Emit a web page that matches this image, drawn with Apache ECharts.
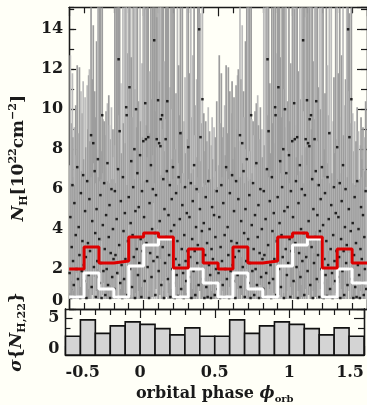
<!DOCTYPE html>
<html>
<head>
<meta charset="utf-8">
<script src="https://cdn.jsdelivr.net/npm/echarts@6/dist/echarts.min.js"></script>
<style>
  html, body { margin: 0; padding: 0; background: #fffff7; }
  #chart { width: 367px; height: 405px; }
</style>
</head>
<body>
<div id="chart"></div>
<script>
// Phase-folded absorption column: each observation is [phase, N_H, lower, upper] (10^22 cm^-2).
// Phases lie in [-0.5, 0.5); the plot repeats them one cycle later.
const nhObs = [
  [-0.497,1.8,0.5,7.2],[-0.492,4.6,0.8,12.7],[-0.487,0.55,0.5,6.3],[-0.483,3.1,0.5,9.3],[-0.478,6.2,1.4,11.8],
  [-0.474,2.4,0.5,8.6],[-0.469,1.2,0.5,6.6],[-0.465,5.3,0.9,9.1],[-0.461,0.6,0.5,6.2],[-0.456,3.7,0.6,10.2],
  [-0.451,2.0,0.5,7.7],[-0.446,7.1,1.8,12.2],[-0.441,1.5,0.5,6.9],[-0.436,4.1,0.7,8.8],[-0.431,2.7,0.5,12.1],
  [-0.426,0.55,0.5,6.5],[-0.421,5.8,1.1,10.9],[-0.416,1.9,0.5,6.9],[-0.411,3.4,0.5,9.8],[-0.406,6.7,1.5,11.4],
  [-0.402,2.2,0.5,7.5],
  [-0.397,1.4,0.5,6.6],[-0.393,4.9,0.8,10.6],[-0.388,2.6,0.5,8.1],[-0.384,0.55,0.5,6.4],[-0.379,6.4,1.3,11.2],
  [-0.374,3.3,0.5,9.0],[-0.369,1.7,0.5,11.7],[-0.364,5.5,1.0,12.0],[-0.36,2.9,0.5,8.4],[-0.353,8.7,2.9,16.0],
  [-0.349,1.1,0.5,6.6],[-0.345,4.4,0.7,11.5],[-0.338,8.3,2.6,14.2],[-0.334,2.1,0.5,7.3],[-0.329,6.9,1.6,10.9],
  [-0.325,3.8,0.6,9.6],[-0.321,0.6,0.5,6.3],[-0.316,5.0,0.9,13.4],[-0.311,2.4,0.5,8.0],[-0.307,7.5,2.0,16.5],
  [-0.303,1.6,0.5,6.6],
  [-0.298,3.5,0.5,17.0],[-0.294,1.3,0.5,6.4],[-0.29,5.7,1.0,15.8],[-0.286,2.3,0.5,7.9],[-0.282,0.55,0.5,6.5],
  [-0.278,9.7,3.4,16.2],[-0.274,4.2,0.7,9.5],[-0.27,1.9,0.5,6.8],[-0.265,6.3,1.3,9.4],[-0.261,3.0,0.5,8.7],
  [-0.257,0.7,0.5,6.2],[-0.252,4.7,0.8,9.9],[-0.248,2.0,0.5,7.1],[-0.243,7.3,1.9,10.3],[-0.239,1.2,0.5,6.4],
  [-0.234,3.6,0.6,10.7],[-0.229,5.2,0.9,9.2],[-0.225,0.55,0.5,6.3],[-0.221,2.8,0.5,8.5],[-0.216,6.0,1.2,10.1],
  [-0.211,1.6,0.5,6.5],[-0.206,4.0,0.6,9.0],[-0.202,2.5,0.5,7.6],
  [-0.197,1.0,0.5,6.5],[-0.193,5.9,1.1,16.8],[-0.189,2.7,0.5,8.2],[-0.185,0.6,0.5,6.3],[-0.181,4.5,0.7,15.9],
  [-0.177,1.8,0.5,7.0],[-0.172,7.0,1.7,17.5],[-0.168,12.5,4.6,19.0],[-0.164,3.2,0.5,9.7],[-0.161,8.9,3.0,16.4],
  [-0.157,1.3,0.5,6.6],[-0.153,5.4,1.0,11.3],[-0.148,2.2,0.5,7.8],[-0.143,0.55,0.5,6.9],[-0.139,6.6,1.5,16.1],
  [-0.135,3.9,0.6,9.3],[-0.131,1.5,0.5,6.5],[-0.126,4.8,0.8,15.7],[-0.122,2.5,0.5,8.3],[-0.117,10.1,3.8,17.8],
  [-0.114,9.7,3.3,16.6],[-0.109,0.7,0.5,6.2],[-0.105,3.4,0.5,12.8],
  [-0.1,5.6,1.0,16.3],[-0.095,11.1,4.2,18.2],[-0.091,2.0,0.5,7.4],[-0.087,4.3,0.7,15.4],[-0.083,7.4,2.0,12.6],
  [-0.078,1.1,0.5,6.8],[-0.074,3.7,0.6,9.6],[-0.07,6.1,1.2,16.9],[-0.066,2.6,0.5,8.0],[-0.062,8.0,2.5,15.1],
  [-0.058,0.55,0.5,6.5],[-0.055,4.9,0.8,11.0],[-0.051,10.0,3.6,17.3],[-0.046,3.0,0.5,9.1],[-0.042,6.8,1.6,15.5],
  [-0.038,1.7,0.5,6.7],[-0.033,5.1,0.9,10.4],[-0.029,2.3,0.5,7.9],[-0.024,7.7,2.2,16.7],[-0.02,3.5,0.5,9.4],
  [-0.015,0.6,0.5,6.3],[-0.011,5.9,1.1,12.3],[-0.006,2.9,0.5,8.6],[-0.002,8.4,2.7,15.2],
  [0.003,4.6,0.7,16.2],[0.007,1.4,0.5,6.4],[0.011,10.3,3.9,17.6],[0.015,8.5,2.8,15.0],[0.019,3.3,0.5,9.2],
  [0.023,6.4,1.4,16.4],[0.027,2.1,0.5,7.6],[0.031,8.6,2.8,15.8],[0.036,0.55,0.5,6.7],[0.04,5.3,0.9,11.9],
  [0.044,2.8,0.5,8.8],[0.049,7.2,1.9,16.0],[0.053,1.6,0.5,6.9],[0.057,4.0,0.6,10.5],[0.062,6.0,1.2,15.3],
  [0.066,2.4,0.5,7.7],[0.071,13.45,5.3,19.5],[0.075,3.8,0.6,9.9],[0.079,0.7,0.5,6.3],[0.083,5.7,1.0,16.6],
  [0.088,8.5,2.8,14.6],[0.092,2.6,0.5,8.1],[0.097,10.45,4.0,18.1],
  [0.101,1.9,0.5,7.2],[0.104,8.3,2.6,16.2],[0.108,4.4,0.7,11.4],[0.113,8.15,2.5,15.3],[0.115,9.5,3.3,17.1],
  [0.119,1.2,0.5,6.7],[0.124,9.7,3.4,16.8],[0.128,3.1,0.5,9.0],[0.132,6.5,1.4,15.6],[0.136,0.55,0.5,6.4],
  [0.14,5.0,0.9,12.4],[0.144,2.3,0.5,7.9],[0.148,8.5,2.8,16.0],[0.152,3.6,0.6,9.5],[0.156,6.9,1.6,15.4],
  [0.159,10.4,3.9,17.4],[0.163,1.5,0.5,6.3],[0.167,4.7,0.8,15.9],[0.171,2.7,0.5,8.4],[0.176,6.2,1.3,11.1],
  [0.18,0.6,0.5,6.4],[0.184,3.9,0.6,16.4],[0.189,5.5,1.0,10.0],[0.193,2.0,0.5,7.5],[0.197,7.1,1.8,15.2],
  [0.201,1.3,0.5,6.5],[0.205,4.2,0.7,15.7],[0.209,0.55,0.5,6.6],[0.214,2.5,0.5,8.0],[0.218,5.8,1.1,10.8],
  [0.222,1.7,0.5,6.6],[0.227,3.4,0.5,16.1],[0.231,0.65,0.5,6.2],[0.235,6.6,1.5,12.2],[0.239,2.2,0.5,7.3],
  [0.243,4.5,0.7,9.7],[0.247,8.8,2.9,15.6],[0.252,1.0,0.5,6.3],[0.256,3.0,0.5,8.9],[0.26,5.2,0.9,16.0],
  [0.265,1.8,0.5,6.8],[0.269,0.55,0.5,6.1],[0.273,3.7,0.6,9.4],[0.278,6.1,1.2,11.6],[0.282,2.4,0.5,7.8],
  [0.286,1.4,0.5,6.2],[0.29,4.8,0.8,15.9],[0.295,2.9,0.5,8.5],
  [0.3,8.1,2.5,16.3],[0.304,1.6,0.5,6.5],[0.308,4.6,0.7,11.8],[0.313,2.6,0.5,8.2],[0.317,6.3,1.3,15.6],
  [0.321,0.55,0.5,6.8],[0.326,3.5,0.5,9.6],[0.33,5.4,1.0,12.7],[0.335,1.9,0.5,7.0],[0.339,7.2,1.9,16.7],
  [0.343,2.9,0.5,8.7],[0.347,0.7,0.5,6.2],[0.352,4.1,0.6,10.2],[0.356,6.0,1.2,11.5],[0.36,2.3,0.5,7.6],
  [0.364,3.2,0.5,15.3],[0.369,1.2,0.5,6.6],[0.373,14.0,5.8,20.0],[0.378,5.0,0.9,10.9],[0.382,8.6,2.8,14.8],
  [0.386,2.0,0.5,7.4],[0.391,3.9,0.6,9.3],[0.395,10.5,4.0,17.5],
  [0.399,1.5,0.5,6.1],[0.404,4.3,0.7,9.8],[0.408,0.55,0.5,6.3],[0.413,2.7,0.5,7.9],[0.417,5.6,1.0,9.4],
  [0.421,1.1,0.5,6.2],[0.426,3.3,0.5,8.4],[0.43,0.6,0.5,6.1],[0.434,6.4,1.4,10.1],[0.439,2.2,0.5,7.0],
  [0.443,4.0,0.6,8.9],[0.447,1.7,0.5,6.4],[0.452,0.55,0.5,6.5],[0.456,3.0,0.5,8.2],[0.46,5.1,0.9,9.6],
  [0.465,2.5,0.5,7.5],[0.469,1.3,0.5,6.6],[0.473,4.7,0.8,9.1],[0.478,0.7,0.5,6.0],[0.482,3.6,0.6,8.6],
  [0.486,2.0,0.5,6.9],[0.491,5.9,1.1,10.4],[0.495,1.0,0.5,6.1]
];

// Phase bins of width 0.1 over two cycles (edges)
const binEdges = [-0.5,-0.4,-0.3,-0.2,-0.1,0.0,0.1,0.2,0.3,0.4,0.5,0.6,0.7,0.8,0.9,1.0,1.1,1.2,1.3,1.4,1.5];
// Binned N_H curves, one value per bin
const nhBinnedRed   = [2.0,3.1,2.3,2.4,3.6,3.8,3.6,2.05,3.0,2.3, 2.0,3.1,2.3,2.4,3.6,3.8,3.6,2.05,3.0,2.3];
const nhBinnedWhite = [0.6,1.8,1.0,0.6,2.15,3.2,3.5,0.6,2.0,1.3, 0.6,1.8,1.0,0.6,2.15,3.2,3.5,0.6,2.0,1.3];
// Scatter of N_H within each bin
const sigmaNH = [2.52,4.74,2.92,3.93,4.46,4.13,3.56,2.71,3.65,2.52, 2.52,4.74,2.92,3.93,4.46,4.13,3.56,2.71,3.65,2.52];

// Axis ranges and tick values
const phaseRange = [-0.5, 1.5];
const nhRange = [0, 15.1];
const sigmaRange = [0, 6.2];
const nhMajorStep = 2, nhMinorStep = 1;
const phaseMajorStep = 0.5;
const sigmaTickLabels = [0, 5];
const sigmaMinorTicks = [3.65];

const serif = "'DejaVu Serif', serif";
const ink = '#1a1a1a';

// Observations over two cycles
const obsTwoCycles = [];
nhObs.forEach(r => obsTwoCycles.push(r));
nhObs.forEach(r => obsTwoCycles.push([r[0] + 1, r[1], r[2], r[3]]));

const stepData = vals => {
  const d = vals.map((v, i) => [binEdges[i], v]);
  d.push([binEdges[binEdges.length - 1], vals[vals.length - 1]]);
  return d;
};
const sigmaBars = sigmaNH.map((v, i) => [binEdges[i], binEdges[i + 1], v]);

const labelStyle = { fontFamily: serif, fontWeight: 'bold', fontSize: 16, color: ink };
function richFor(size, small) {
  return {
    n:   { fontFamily: serif, fontWeight: 'bold', fontSize: size, color: ink, lineHeight: size + 5, verticalAlign: 'middle' },
    it:  { fontFamily: serif, fontWeight: 'bold', fontStyle: 'italic', fontSize: size, color: ink, lineHeight: size + 5, verticalAlign: 'middle' },
    sub: { fontFamily: serif, fontWeight: 'bold', fontSize: small, color: ink, lineHeight: small, verticalAlign: 'bottom' },
    sup: { fontFamily: serif, fontWeight: 'bold', fontSize: small, color: ink, lineHeight: small, verticalAlign: 'top' }
  };
}

function xAxisCfg(gridIndex, position, major, minor, extra) {
  return Object.assign({
    type: 'value', gridIndex, position, min: phaseRange[0], max: phaseRange[1], interval: phaseMajorStep,
    axisLine: { show: true, onZero: false, lineStyle: { color: ink, width: 1.3 } },
    axisTick: { show: true, inside: true, length: major, lineStyle: { color: ink, width: 1.2 } },
    minorTick: { show: true, splitNumber: 5, length: minor, lineStyle: { color: ink, width: 1.2 } },
    axisLabel: { show: false }, splitLine: { show: false }, minorSplitLine: { show: false }
  }, extra || {});
}
function yTopCfg(position, step, len, extra) {
  return Object.assign({
    type: 'value', gridIndex: 0, position, min: nhRange[0], max: nhRange[1], interval: step,
    axisLine: { show: true, onZero: false, lineStyle: { color: ink, width: 1.3 } },
    axisTick: { show: true, inside: true, length: len, lineStyle: { color: ink, width: 1.2 } },
    axisLabel: { show: false }, splitLine: { show: false }
  }, extra || {});
}
function yBottomCfg(position, ticks, len, extra) {
  return Object.assign({
    type: 'value', gridIndex: 1, position, min: sigmaRange[0], max: sigmaRange[1],
    axisLine: { show: true, onZero: false, lineStyle: { color: ink, width: 1.3 } },
    axisTick: { show: true, inside: true, length: len, customValues: ticks, lineStyle: { color: ink, width: 1.2 } },
    axisLabel: { show: false }, splitLine: { show: false }
  }, extra || {});
}

const option = {
  backgroundColor: '#fffff7',
  animation: false,
  grid: [
    { left: 65.5, right: 0, top: 7.3, bottom: 96 },
    { left: 65.5, right: 0, top: 309, bottom: 45 }
  ],
  xAxis: [
    xAxisCfg(0, 'bottom', 9, 6),
    xAxisCfg(0, 'top', 9, 6),
    xAxisCfg(1, 'top', 9, 6),
    xAxisCfg(1, 'bottom', 9, 6, {
      axisLabel: Object.assign({ show: true, margin: 10, alignMinLabel: 'left', alignMaxLabel: 'right' }, labelStyle),
      name: 'orbital phase {it|ϕ}{sub|orb}',
      nameLocation: 'middle', nameGap: 28,
      nameTextStyle: { fontFamily: serif, fontWeight: 'bold', fontSize: 16, color: ink, rich: richFor(16, 10) }
    })
  ],
  yAxis: [
    yTopCfg('left', nhMajorStep, 7, {
      axisLabel: Object.assign({ show: true, margin: 6, showMaxLabel: false, verticalAlignMinLabel: 'bottom' }, labelStyle),
      name: '{it|N}{sub|H}{n|[10}{sup|22}{n|cm}{sup|−2}{n|]}',
      nameLocation: 'middle', nameRotate: 90, nameGap: 38,
      nameTextStyle: { fontFamily: serif, fontWeight: 'bold', fontSize: 17, color: ink, rich: richFor(17, 11) }
    }),
    yTopCfg('left', nhMinorStep, 5),
    yTopCfg('right', nhMajorStep, 10),
    yTopCfg('right', nhMinorStep, 6),
    yBottomCfg('left', [5], 7, {
      axisLabel: Object.assign({ show: true, margin: 6, customValues: sigmaTickLabels, verticalAlignMinLabel: 'bottom', lineHeight: 12 }, labelStyle),
      name: '{it|σ}{n|{}{it|N}{sub|H,22}}',
      nameLocation: 'middle', nameRotate: 90, nameGap: 38,
      nameTextStyle: { fontFamily: serif, fontWeight: 'bold', fontSize: 17, color: ink, rich: richFor(17, 11) }
    }),
    yBottomCfg('left', sigmaMinorTicks, 5),
    yBottomCfg('right', [5], 10),
    yBottomCfg('right', sigmaMinorTicks, 6)
  ],
  series: [
    {
      // error bars of the individual observations
      type: 'custom', xAxisIndex: 0, yAxisIndex: 0, clip: true, z: 2,
      data: obsTwoCycles.map(r => [r[0], r[2], r[3]]),
      encode: { x: 0, y: [1, 2] },
      renderItem(params, api) {
        const x = api.value(0);
        const lo = Math.max(api.value(1), nhRange[0]);
        const hi = Math.min(api.value(2), nhRange[1]);
        const p0 = api.coord([x, lo]);
        const p1 = api.coord([x, hi]);
        const shade = params.dataIndex % 3 === 1 ? '#bcbcbc' : '#9d9d9d';
        return { type: 'line', shape: { x1: p0[0], y1: p0[1], x2: p1[0], y2: p1[1] },
                 style: { stroke: shade, lineWidth: 1.7 } };
      }
    },
    {
      type: 'scatter', xAxisIndex: 0, yAxisIndex: 0, z: 3,
      symbol: 'rect', symbolSize: 2.5,
      itemStyle: { color: '#000' },
      data: obsTwoCycles.map(r => [r[0], r[1]])
    },
    {
      type: 'line', xAxisIndex: 0, yAxisIndex: 0, step: 'end', z: 4,
      symbol: 'none', lineStyle: { color: '#ffffff', width: 3 },
      data: stepData(nhBinnedWhite)
    },
    {
      type: 'line', xAxisIndex: 0, yAxisIndex: 0, step: 'end', z: 5,
      symbol: 'none', lineStyle: { color: '#dd0000', width: 3 },
      data: stepData(nhBinnedRed)
    },
    {
      type: 'custom', xAxisIndex: 3, yAxisIndex: 4, z: 3,
      data: sigmaBars,
      encode: { x: [0, 1], y: 2 },
      renderItem(params, api) {
        const p0 = api.coord([api.value(0), api.value(2)]);
        const p1 = api.coord([api.value(1), 0]);
        return { type: 'rect',
                 shape: { x: p0[0], y: p0[1], width: p1[0] - p0[0], height: p1[1] - p0[1] },
                 style: { fill: '#d4d4d4', stroke: '#111', lineWidth: 1.6 } };
      }
    }
  ]
};

const chart = echarts.init(document.getElementById('chart'), null, { renderer: 'canvas' });
chart.setOption(option);
</script>
</body>
</html>
